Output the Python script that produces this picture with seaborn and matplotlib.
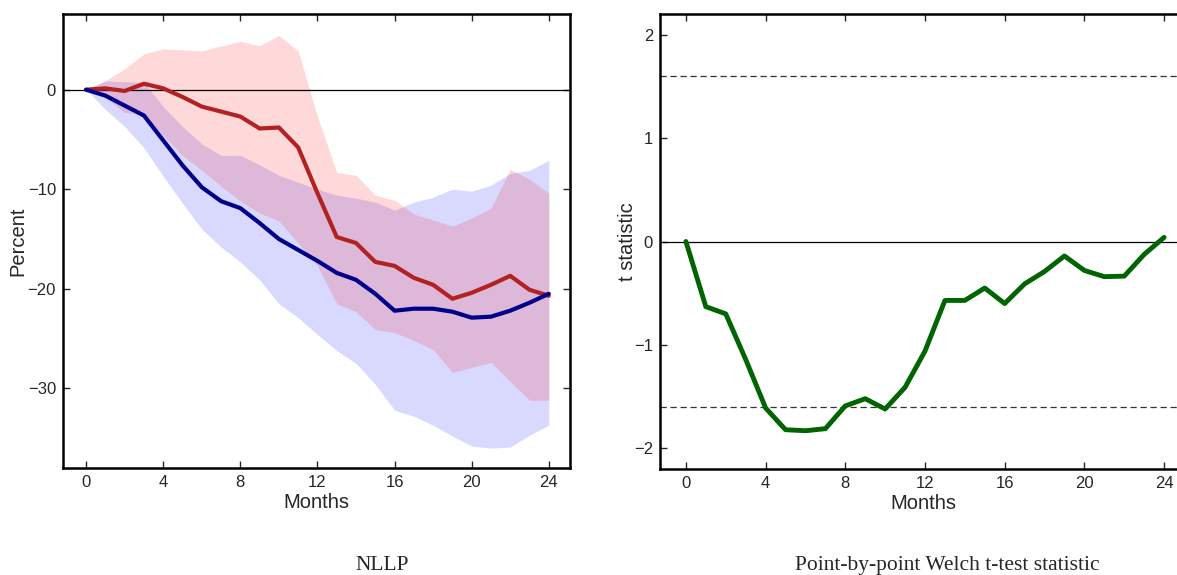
import numpy as np
import pandas as pd
import matplotlib
matplotlib.use("Agg")
import matplotlib.pyplot as plt
import seaborn as sns

# --- data ---
months = list(range(25))

nllp_red = [0.0, 0.13, -0.13, 0.6, 0.13, -0.73, -1.7, -2.2, -2.7, -3.9, -3.8, -5.8, -10.4,
            -14.8, -15.4, -17.3, -17.7, -18.9, -19.6, -21.0, -20.4, -19.6, -18.7, -20.1, -20.7]
red_upper = [0.0, 0.9, 2.1, 3.6, 4.1, 4.0, 3.9, 4.4, 4.85, 4.4, 5.45, 3.9, -2.7,
             -8.3, -8.6, -10.6, -11.1, -12.5, -13.1, -13.7, -12.9, -11.9, -8.0, -9.0, -10.4]
red_lower = [0.0, -0.8, -2.3, -2.5, -4.6, -6.6, -8.1, -9.7, -11.2, -12.4, -13.2, -15.4, -17.7,
             -21.5, -22.3, -24.1, -24.4, -25.2, -26.1, -28.4, -27.9, -27.4, -29.3, -31.2, -31.2]

nllp_blue = [0.0, -0.6, -1.6, -2.6, -5.1, -7.6, -9.8, -11.2, -11.9, -13.4, -15.0, -16.1, -17.2,
             -18.4, -19.1, -20.5, -22.2, -22.0, -22.0, -22.3, -22.9, -22.8, -22.2, -21.4, -20.5]
blue_upper = [0.0, 0.87, 0.8, 0.73, -1.7, -3.7, -5.45, -6.6, -6.6, -7.55, -8.6, -9.3, -10.0,
              -10.6, -10.9, -11.3, -12.1, -11.3, -10.8, -10.0, -10.2, -9.6, -8.4, -8.1, -7.1]
blue_lower = [0.0, -2.0, -3.7, -5.85, -8.7, -11.4, -14.0, -15.8, -17.3, -19.1, -21.5, -22.9, -24.6,
              -26.2, -27.5, -29.6, -32.2, -32.8, -33.7, -34.8, -35.8, -36.0, -35.9, -34.7, -33.7]

t_stat = [0.0, -0.63, -0.70, -1.14, -1.61, -1.82, -1.83, -1.81, -1.59, -1.52, -1.62, -1.41, -1.06,
          -0.57, -0.57, -0.45, -0.60, -0.41, -0.29, -0.14, -0.28, -0.34, -0.335, -0.125, 0.04]
crit = 1.6

xticks = [0, 4, 8, 12, 16, 20, 24]

sns.set_style("ticks")
plt.rcParams['font.family'] = ['Liberation Sans', 'DejaVu Sans']
plt.rcParams['xtick.direction'] = 'in'
plt.rcParams['ytick.direction'] = 'in'

df = pd.DataFrame({"Months": months, "red": nllp_red, "blue": nllp_blue, "t": t_stat})

fig = plt.figure(figsize=(11.77, 5.75), dpi=100)
ax1 = fig.add_axes([63/1177, 107/575, 507/1177, 454/575])
ax2 = fig.add_axes([660/1177, 106/575, 526/1177, 455/575])

# left panel: NLLP
ax1.fill_between(months, blue_lower, blue_upper, color='blue', alpha=0.15, lw=0)
ax1.fill_between(months, red_lower, red_upper, color='red', alpha=0.15, lw=0)
ax1.axhline(0, color='black', lw=0.9)
sns.lineplot(data=df, x="Months", y="red", ax=ax1, color='#B22222', lw=3)
sns.lineplot(data=df, x="Months", y="blue", ax=ax1, color='#00008B', lw=3)
ax1.set_xlim(-1.2, 25.1)
ax1.set_ylim(-38, 7.6)
ax1.set_xticks(xticks)
ax1.set_yticks([0, -10, -20, -30])
ax1.set_xlabel("Months", fontsize=14.5, labelpad=2)
ax1.set_ylabel("Percent", fontsize=14.5, va='center')
ax1.yaxis.set_label_coords((18 - 63) / 507, 0.5)
ax1.tick_params(top=True, right=True, labelsize=12, length=5, width=1, pad=5)

# right panel: t statistic
ax2.axhline(0, color='black', lw=0.9)
ax2.axhline(crit, color='#333333', lw=0.9, ls='--', dashes=(5, 3))
ax2.axhline(-crit, color='#333333', lw=0.9, ls='--', dashes=(5, 3))
sns.lineplot(data=df, x="Months", y="t", ax=ax2, color='#006400', lw=3.5)
ax2.set_xlim(-1.3, 25.1)
ax2.set_ylim(-2.2, 2.2)
ax2.set_xticks(xticks)
ax2.set_yticks([2, 1, 0, -1, -2])
ax2.set_xlabel("Months", fontsize=14.5, labelpad=2)
ax2.set_ylabel("t statistic", fontsize=14.5, va='center')
ax2.yaxis.set_label_coords((628 - 660) / 526, 0.5)
ax2.tick_params(top=True, right=True, labelsize=12, length=5, width=1, pad=5)

for ax in (ax1, ax2):
    for s in ax.spines.values():
        s.set_visible(True)
        s.set_linewidth(1.8)
        s.set_color('black')

# subfigure captions (serif, as in the source document)
fig.text(382/1177, 5/575, "NLLP", family='Liberation Serif', fontsize=15.5, ha='center', va='baseline')
fig.text(947/1177, 5/575, "Point-by-point Welch t-test statistic", family='Liberation Serif',
         fontsize=15.5, ha='center', va='baseline')

fig.savefig("out.png", dpi=100)
